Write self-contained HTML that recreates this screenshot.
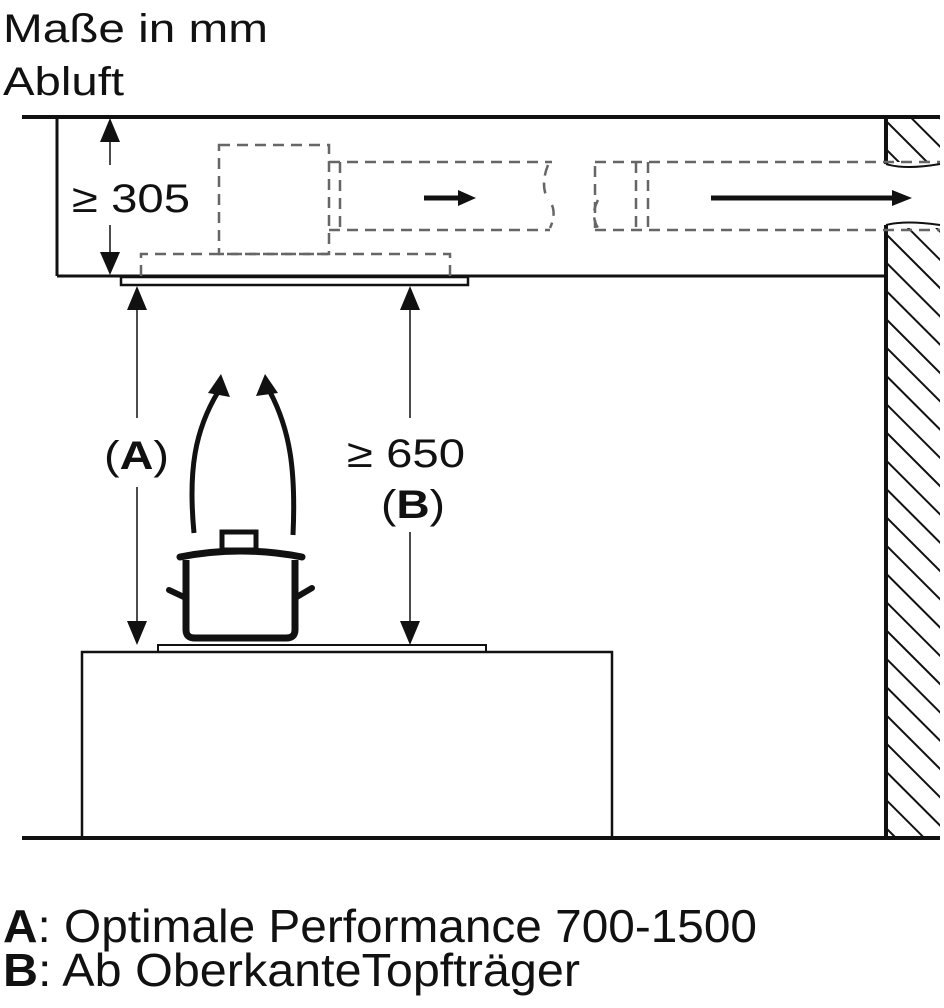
<!DOCTYPE html>
<html><head><meta charset="utf-8"><style>
html,body{margin:0;padding:0;background:#fff;}
svg{display:block;}
text{font-family:"Liberation Sans",sans-serif;fill:#111;}
</style></head><body>
<svg width="944" height="1008" viewBox="0 0 944 1008" xmlns="http://www.w3.org/2000/svg">
<defs>
<pattern id="h" patternUnits="userSpaceOnUse" width="20" height="20" patternTransform="rotate(-45)">
<rect width="20" height="20" fill="#fff"/><line x1="0" y1="0" x2="0" y2="20" stroke="#111" stroke-width="4"/>
</pattern>
</defs>
<text x="3" y="42" font-size="40" textLength="265" lengthAdjust="spacingAndGlyphs">Maße in mm</text>
<text x="3" y="95" font-size="40" textLength="121" lengthAdjust="spacingAndGlyphs">Abluft</text>

<rect x="886" y="118" width="54" height="44" fill="url(#h)"/>
<rect x="886" y="228" width="54" height="610" fill="url(#h)"/>
<line x1="886" y1="117" x2="886" y2="164" stroke="#111" stroke-width="4"/>
<line x1="886" y1="225" x2="886" y2="838" stroke="#111" stroke-width="4"/>

<line x1="22" y1="117" x2="940" y2="117" stroke="#111" stroke-width="4"/>
<line x1="57" y1="117" x2="57" y2="276" stroke="#111" stroke-width="3"/>
<line x1="57" y1="276" x2="886" y2="276" stroke="#111" stroke-width="3"/>
<rect x="121" y="277" width="347" height="8" fill="#fff" stroke="#111" stroke-width="2.5"/>

<g stroke="#666" stroke-width="2.5" fill="none" stroke-dasharray="11,7">
<rect x="219" y="145" width="110" height="109"/>
<path d="M141,276 V254 H450 V276"/>
<path d="M329,162 H552 M329,230 H550 M340,162 V230"/>
<path d="M595,162 H940 M595,230 H940 M595,166 V228 M636,162 V230 M648,162 V230"/>
<path d="M548,165 Q540,185 548,200 M552,205 Q556,215 550,228"/>
<path d="M598,200 Q590,215 598,228"/>
</g>
<path d="M886,164 Q905,170 940,164 M886,225 Q905,220 940,225" stroke="#111" stroke-width="2" fill="none"/>

<line x1="424" y1="198" x2="462" y2="198" stroke="#111" stroke-width="5"/>
<path d="M458,190 L476,198 L458,206 z" fill="#111"/>
<line x1="711" y1="198" x2="895" y2="198" stroke="#111" stroke-width="5"/>
<path d="M892,190 L912,198 L892,206 z" fill="#111"/>

<line x1="110" y1="130" x2="110" y2="165" stroke="#111" stroke-width="1.5"/>
<line x1="110" y1="225" x2="110" y2="262" stroke="#111" stroke-width="1.5"/>
<path d="M100,142 L110,118 L120,142 z M100,252 L110,275 L120,252 z" fill="#111"/>
<text x="72" y="212" font-size="40" textLength="118" lengthAdjust="spacingAndGlyphs">≥ 305</text>

<line x1="137" y1="300" x2="137" y2="418" stroke="#111" stroke-width="1.5"/>
<line x1="137" y1="487" x2="137" y2="630" stroke="#111" stroke-width="1.5"/>
<path d="M127,310 L137,286 L147,310 z M127,621 L137,645 L147,621 z" fill="#111"/>
<text x="104" y="469" font-size="40" textLength="65" lengthAdjust="spacingAndGlyphs">(<tspan font-weight="bold">A</tspan>)</text>

<line x1="410" y1="300" x2="410" y2="418" stroke="#111" stroke-width="1.5"/>
<line x1="410" y1="532" x2="410" y2="630" stroke="#111" stroke-width="1.5"/>
<path d="M400,310 L410,286 L420,310 z M400,621 L410,645 L420,621 z" fill="#111"/>
<text x="347" y="467" font-size="40" textLength="118" lengthAdjust="spacingAndGlyphs">≥ 650</text>
<text x="381" y="518" font-size="40" textLength="64" lengthAdjust="spacingAndGlyphs">(<tspan font-weight="bold">B</tspan>)</text>

<path d="M194,533 C188,470 195,430 218,392" stroke="#111" stroke-width="5" fill="none"/>
<path d="M208,393 L221,374 L230,397 z" fill="#111"/>
<path d="M293,535 C296,470 290,430 270,392" stroke="#111" stroke-width="5" fill="none"/>
<path d="M256,396 L265,374 L278,393 z" fill="#111"/>

<rect x="222" y="532" width="34" height="18" fill="#fff" stroke="#111" stroke-width="5"/>
<path d="M180,557 Q240,545 302,557" stroke="#111" stroke-width="7" fill="none" stroke-linecap="round"/>
<path d="M186,560 V630 Q186,638 195,638 H286 Q295,638 295,630 V560" stroke="#111" stroke-width="7" fill="none"/>
<path d="M169,590 L186,598 M312,588 L295,598" stroke="#111" stroke-width="6" stroke-linecap="round"/>

<rect x="158" y="645" width="328" height="7" fill="#fff" stroke="#111" stroke-width="2"/>
<rect x="82" y="652" width="530" height="186" fill="#fff" stroke="#111" stroke-width="2.5"/>
<line x1="22" y1="838" x2="940" y2="838" stroke="#111" stroke-width="4"/>

<text x="3" y="942" font-size="46" textLength="754" lengthAdjust="spacingAndGlyphs"><tspan font-weight="bold">A</tspan>: Optimale Performance 700-1500</text>
<text x="3" y="986" font-size="46" textLength="577" lengthAdjust="spacingAndGlyphs"><tspan font-weight="bold">B</tspan>: Ab OberkanteTopfträger</text>
</svg>
</body></html>
